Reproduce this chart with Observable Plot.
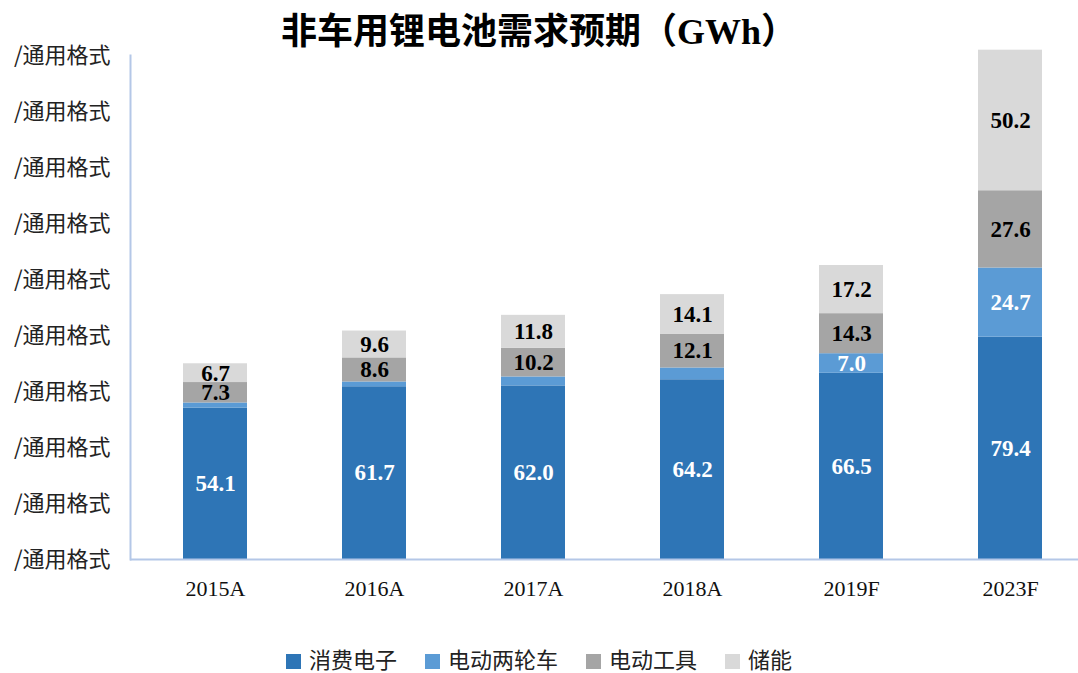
<!DOCTYPE html>
<html>
<head>
<meta charset="utf-8">
<script src="https://cdn.jsdelivr.net/npm/d3@7"></script>
<script src="https://cdn.jsdelivr.net/npm/@observablehq/plot@0.6"></script>
<style>
  html, body { margin: 0; padding: 0; background: #fff; }
  #wrap { position: relative; width: 1078px; height: 673px; overflow: hidden; }
  #title { position: absolute; left: 0; top: 12px; width: 1078px; text-align: center;
    font-family: "Liberation Serif", "Noto Sans CJK SC", serif; font-weight: bold; font-size: 36px; line-height: 40px; color: #000; }
  #legend { position: absolute; left: 0; top: 646px; width: 1078px; text-align: center;
    font-family: "Noto Sans CJK SC", sans-serif; font-size: 22px; line-height: 24px; color: #222; }
  #legend span.item { display: inline-block; margin: 0 14px; }
  #legend span.sw { display: inline-block; width: 15px; height: 15px; margin-right: 8px; vertical-align: -1px; }
  #chart { position: absolute; left: 0; top: 0; }
</style>
</head>
<body>
<div id="wrap">
  <div id="chart"></div>
  <div id="title">非车用锂电池需求预期（GWh）</div>
  <div id="legend"></div>
</div>
<script>
const years = ["2015A", "2016A", "2017A", "2018A", "2019F", "2023F"];
const seriesNames = ["消费电子", "电动两轮车", "电动工具", "储能"];
const seriesColors = ["#2e75b6", "#5b9bd5", "#a5a5a5", "#d9d9d9"];
const consumer = [54.1, 61.7, 62.0, 64.2, 66.5, 79.4];
const twoWheel = [1.8, 1.7, 3.2, 4.2, 7.0, 24.7];
const twoWheelLabeled = [false, false, false, false, true, true];
const tools = [7.3, 8.6, 10.2, 12.1, 14.3, 27.6];
const storage = [6.7, 9.6, 11.8, 14.1, 17.2, 50.2];
const yTicks = [0, 20, 40, 60, 80, 100, 120, 140, 160, 180];
const yTickLabel = "/通用格式";

const seriesValues = [consumer, twoWheel, tools, storage];
const rows = [];
seriesNames.forEach((s, si) => {
  years.forEach((y, i) => {
    const show = si === 1 ? twoWheelLabeled[i] : true;
    rows.push({year: y, series: s, value: seriesValues[si][i], show, light: si < 2});
  });
});

const serif = "'Liberation Serif', 'Times New Roman', serif";

const chart = Plot.plot({
  width: 1078,
  height: 673,
  marginLeft: 130,
  marginRight: 0,
  marginTop: 55,
  marginBottom: 114,
  style: {background: "transparent", overflow: "visible"},
  x: {domain: years, range: [130, 1094], paddingInner: 0.6, paddingOuter: 0.327, label: null},
  y: {domain: [0, 180], label: null},
  color: {domain: seriesNames, range: seriesColors},
  marks: [
    Plot.barY(rows, Plot.stackY({x: "year", y: "value", z: "series", fill: "series", order: seriesNames})),
    Plot.text(rows, Plot.stackY({x: "year", y: "value", z: "series", order: seriesNames,
      text: d => (d.show && d.light) ? d.value.toFixed(1) : "",
      fill: "#fff", fontSize: 23, fontWeight: "bold", fontFamily: serif})),
    Plot.text(rows, Plot.stackY({x: "year", y: "value", z: "series", order: seriesNames,
      text: d => (d.show && !d.light) ? d.value.toFixed(1) : "",
      fill: "#000", fontSize: 23, fontWeight: "bold", fontFamily: serif})),
    Plot.axisY({ticks: yTicks, tickFormat: () => yTickLabel, tickSize: 0, tickPadding: 20,
      fontSize: 22, fontFamily: "'Noto Sans CJK SC', sans-serif", fill: "#222"}),
    Plot.axisX({tickSize: 0, tickPadding: 21, fontSize: 22, fontFamily: serif, fill: "#111"}),
    Plot.frame({anchor: "left", stroke: "#b4c7e7", strokeWidth: 2, strokeOpacity: 1}),
    Plot.ruleY([0], {stroke: "#b4c7e7", strokeWidth: 2})
  ]
});
document.getElementById("chart").appendChild(chart);

const legend = document.getElementById("legend");
seriesNames.forEach((s, i) => {
  const item = document.createElement("span");
  item.className = "item";
  const sw = document.createElement("span");
  sw.className = "sw";
  sw.style.background = seriesColors[i];
  item.appendChild(sw);
  item.appendChild(document.createTextNode(s));
  legend.appendChild(item);
});
</script>
</body>
</html>
